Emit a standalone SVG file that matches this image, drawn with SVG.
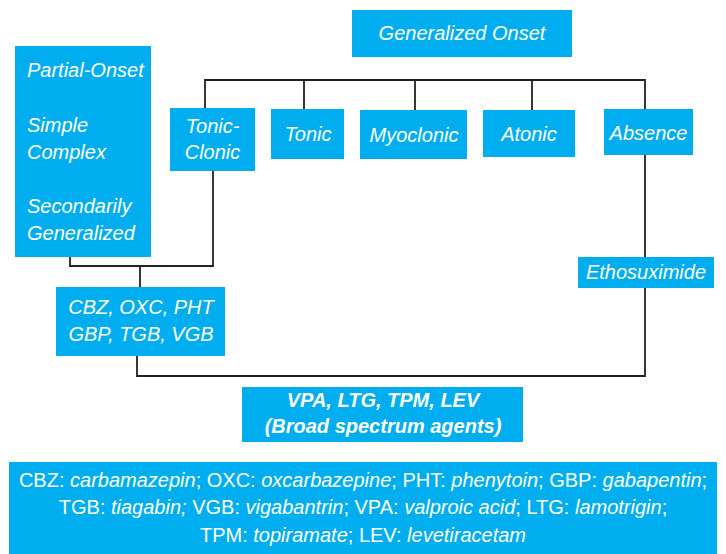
<svg xmlns="http://www.w3.org/2000/svg" width="726" height="554" viewBox="0 0 726 554">
<style>
.box{fill:#00AEEF}
.t{fill:#fff;font-family:"Liberation Sans",Arial,sans-serif;font-size:20px;font-style:italic}
.c{text-anchor:middle}
.b{font-weight:bold}
.n{font-style:normal}
.i{font-style:italic}
.ln{fill:none;stroke:#222;stroke-width:1.8}
</style>
<rect width="726" height="554" fill="#fff"/>
<g id="connectors" class="ln">
<path d="M205,108 V80 H645 V109"/>
<path d="M304,80 V109"/>
<path d="M415,80 V110"/>
<path d="M532,80 V110"/>
<path d="M70,257 V266 H213 V171"/>
<path d="M140,266 V287"/>
<path d="M645,155 V257"/>
<path d="M137,356 V376 H645 V288"/>
</g>
<g id="generalized-onset">
<rect class="box" x="352" y="10" width="220" height="47"/>
<text class="t c" x="462" y="40">Generalized Onset</text>
</g>
<g id="partial-onset">
<rect class="box" x="15" y="46" width="136" height="211"/>
<text class="t" x="27" y="77">Partial-Onset</text>
<text class="t" x="27" y="132">Simple</text>
<text class="t" x="27" y="159">Complex</text>
<text class="t" x="27" y="213">Secondarily</text>
<text class="t" x="27" y="240">Generalized</text>
</g>
<g id="tonic-clonic">
<rect class="box" x="170" y="108" width="85" height="63"/>
<text class="t c" x="212.5" y="133">Tonic-</text>
<text class="t c" x="212.5" y="159">Clonic</text>
</g>
<g id="tonic">
<rect class="box" x="271" y="109" width="73" height="50"/>
<text class="t c" x="308" y="141">Tonic</text>
</g>
<g id="myoclonic">
<rect class="box" x="360" y="110" width="107" height="49"/>
<text class="t c" x="414" y="142">Myoclonic</text>
</g>
<g id="atonic">
<rect class="box" x="483" y="110" width="92" height="47"/>
<text class="t c" x="529" y="141">Atonic</text>
</g>
<g id="absence">
<rect class="box" x="604" y="109" width="89" height="46"/>
<text class="t c" x="648.5" y="139.5">Absence</text>
</g>
<g id="ethosuximide">
<rect class="box" x="578" y="257" width="136" height="31"/>
<text class="t c" x="646" y="279">Ethosuximide</text>
</g>
<g id="partial-drugs">
<rect class="box" x="56" y="287" width="169" height="69"/>
<text class="t c" x="141" y="314">CBZ, OXC, PHT</text>
<text class="t c" x="141" y="341">GBP, TGB, VGB</text>
</g>
<g id="broad-spectrum">
<rect class="box" x="242" y="387" width="281" height="55"/>
<text class="t c b" x="383" y="407">VPA, LTG, TPM, LEV</text>
<text class="t c b" x="383" y="433">(Broad spectrum agents)</text>
</g>
<g id="legend">
<rect class="box" x="9" y="462" width="708" height="92"/>
<text class="t c n" x="363" y="487">CBZ: <tspan class="i">carbamazepin</tspan>; OXC: <tspan class="i">oxcarbazepine</tspan>; PHT: <tspan class="i">phenytoin</tspan>; GBP: <tspan class="i">gabapentin</tspan>;</text>
<text class="t c n" x="363" y="514">TGB: <tspan class="i">tiagabin;</tspan> VGB: <tspan class="i">vigabantrin</tspan>; VPA: <tspan class="i">valproic acid</tspan>; LTG: <tspan class="i">lamotrigin</tspan>;</text>
<text class="t c n" x="363" y="542">TPM: <tspan class="i">topiramate</tspan>; LEV: <tspan class="i">levetiracetam</tspan></text>
</g>
</svg>
